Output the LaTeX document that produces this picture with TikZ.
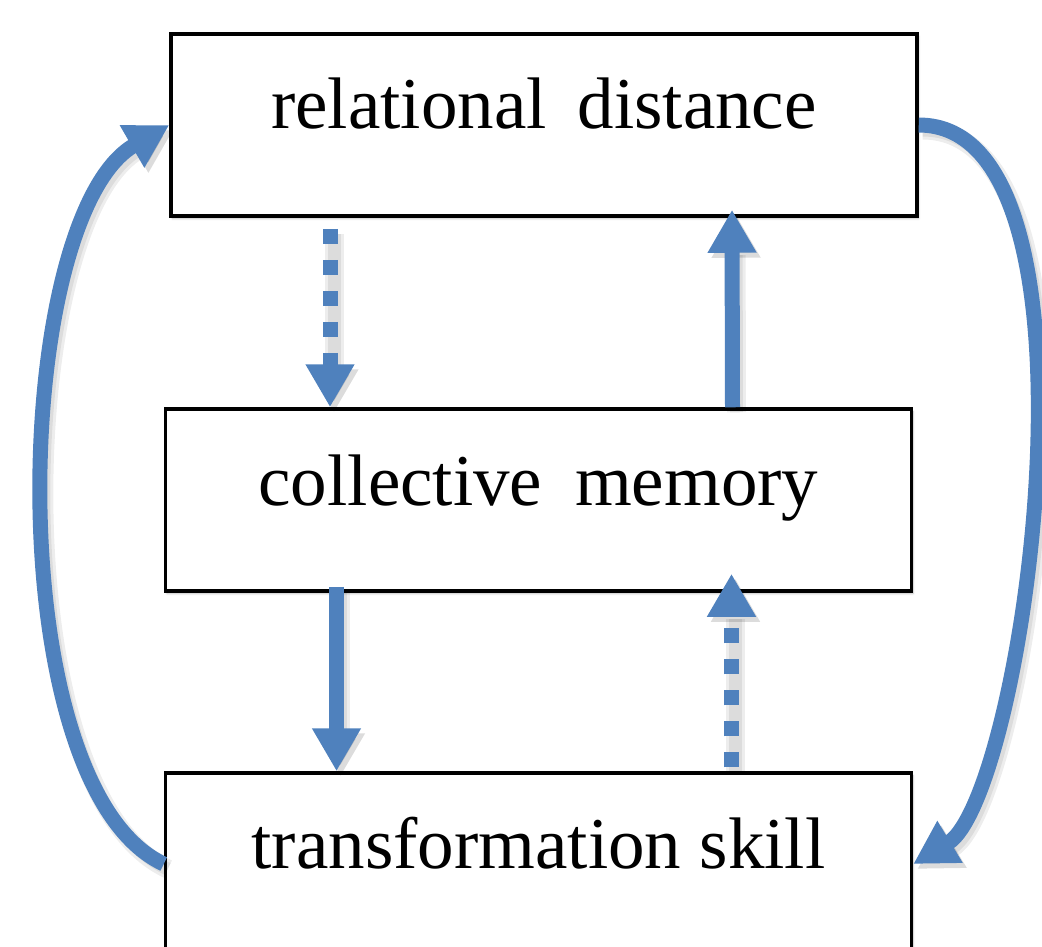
\documentclass[tikz,border=0pt]{standalone}
\usepackage{fontspec}
\setmainfont{Liberation Serif}
\usetikzlibrary{arrows.meta,shadows.blur}
\definecolor{arrowblue}{HTML}{4F81BD}
\begin{document}
\begin{tikzpicture}[x=1pt,y=-1pt,
  box/.style={draw=black, line width=3.5pt, fill=white, minimum width=746pt,
    minimum height=182pt, inner sep=0pt, font=\fontsize{73}{80}\selectfont,
    blur shadow={shadow xshift=1.5pt, shadow yshift=-2.5pt, shadow blur radius=2pt, shadow opacity=30}},
  link/.style={draw=arrowblue, line width=15pt, -{Triangle[length=43pt,width=46pt]},
    preaction={draw=black, opacity=0.07, line width=19pt, transform canvas={shift={(4pt,-5pt)}}},
    preaction={draw=black, opacity=0.07, line width=13pt, transform canvas={shift={(4pt,-5pt)}}}},
  dotlink/.style={link, dash pattern=on 15pt off 16pt},
]
\useasboundingbox (0,0) rectangle (1042,946);
\clip (0,0) rectangle (1042,946);
\node[box, text height=57pt, text depth=51pt] (rd) at (544,125) {relational\hspace{0.42em}distance};
\node[box, text height=60pt, text depth=50pt] (cm) at (538.5,500) {collective\hspace{0.45em}memory};
\node[box, text height=58pt, text depth=50pt] (ts) at (538.5,864) {transformation skill};
% vertical links
\draw[dotlink] ([xshift=-214pt,yshift=-11pt]rd.south) -- ([xshift=-208.5pt]cm.north);
\draw[link] ([xshift=194pt]cm.north) -- ([xshift=188pt,yshift=8pt]rd.south);
\draw[link] ([xshift=-202pt,yshift=6pt]cm.south) -- ([xshift=-202pt]ts.north);
\draw[dotlink] ([xshift=193pt,yshift=4pt]ts.north) -- ([xshift=193pt,yshift=19pt]cm.south);
% outer curves
\draw[link] (ts.west) .. controls +(-167,-78) and +(-159,92) .. (rd.west);
\draw[link] (rd.east) .. controls +(200,0) and +(111,-67) .. (ts.east);
\end{tikzpicture}
\end{document}
